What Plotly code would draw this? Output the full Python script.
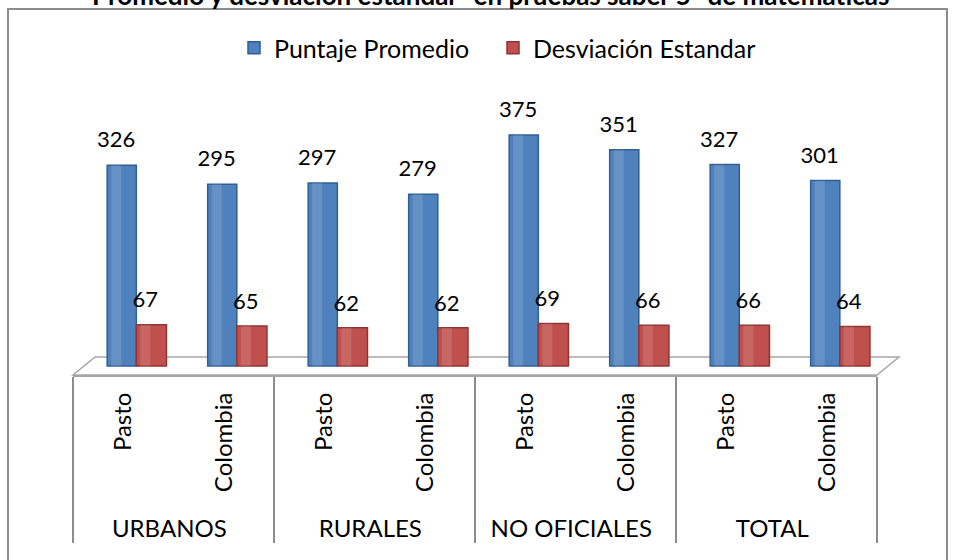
import plotly.graph_objects as go

# ---- data ----
groups = ["URBANOS", "URBANOS", "RURALES", "RURALES",
          "NO OFICIALES", "NO OFICIALES", "TOTAL", "TOTAL"]
places = ["Pasto", "Colombia", "Pasto", "Colombia",
          "Pasto", "Colombia", "Pasto", "Colombia"]
promedio = [326, 295, 297, 279, 375, 351, 327, 301]
desviacion = [67, 65, 62, 62, 69, 66, 66, 64]
series_names = ["Puntaje Promedio", "Desviación Estandar"]
title_text = "Promedio y desviación estandar \"en pruebas saber 5\" de matemáticas"

FONT = "Lato, 'Open Sans', sans-serif"
BLUE = "#4F81BD"
BLUE_D = "#2F5F95"
RED = "#C0504D"
RED_D = "#8E3533"

W, H = 954, 560
L, R, T, B = 73, 77, 110, 185
PW = W - L - R
PH = H - T - B


def px_x(p):
    return (p - L) / PW


def px_y(p):
    return 1 - (p - T) / PH


# a leading no-break space only pads the rotated labels' box (pushes group row down)
place_labels = ["\u00a0" + p for p in places]
x = [groups, place_labels]

fig = go.Figure()

# main bars
fig.add_trace(go.Bar(
    x=x, y=promedio, name=series_names[0], legend="legend",
    marker=dict(color=BLUE, line=dict(color=BLUE_D, width=1.5)),
    offset=-0.16, width=0.29, hoverinfo="y",
))
fig.add_trace(go.Bar(
    x=x, y=desviacion, name=series_names[1], legend="legend2",
    marker=dict(color=RED, line=dict(color=RED_D, width=1.5)),
    offset=0.13, width=0.30, hoverinfo="y",
))

# highlight strips (cylinder look)
fig.add_trace(go.Bar(
    x=x, y=promedio, showlegend=False, hoverinfo="skip",
    marker=dict(color="rgba(255,255,255,0.13)", line=dict(width=0)),
    offset=-0.12, width=0.10,
))
fig.add_trace(go.Bar(
    x=x, y=desviacion, showlegend=False, hoverinfo="skip",
    marker=dict(color="rgba(255,255,255,0.13)", line=dict(width=0)),
    offset=0.17, width=0.10,
))

# value labels (transparent carrier bars)
fig.add_trace(go.Bar(
    x=x, y=promedio, base=16, showlegend=False, hoverinfo="skip",
    marker=dict(color="rgba(0,0,0,0)", line=dict(width=0)),
    offset=-0.22, width=0.30,
    text=[str(v) for v in promedio], textposition="outside", constraintext="none",
    textfont=dict(family=FONT, size=22, color="#000"), cliponaxis=False,
))
fig.add_trace(go.Bar(
    x=x, y=desviacion, base=15, showlegend=False, hoverinfo="skip",
    marker=dict(color="rgba(0,0,0,0)", line=dict(width=0)),
    offset=0.07, width=0.30,
    text=[str(v) for v in desviacion], textposition="outside", constraintext="none",
    textfont=dict(family=FONT, size=22, color="#000"), cliponaxis=False,
))

GRAY = "#8c8c8c"

shapes = [
    # outer chart border
    dict(type="rect", xref="paper", yref="paper",
         x0=px_x(8), x1=px_x(947), y0=px_y(575), y1=px_y(9),
         line=dict(color=GRAY, width=2), fillcolor="rgba(0,0,0,0)", layer="below"),
    # 3D floor
    dict(type="path", xref="paper", yref="paper", layer="below",
         path=f"M {px_x(73)} {px_y(375)} L {px_x(95)} {px_y(357)} L {px_x(899)} {px_y(357)} "
              f"L {px_x(877)} {px_y(375)} Z",
         line=dict(color="#a6a6a6", width=1.5), fillcolor="#ffffff"),
]

legend_common = dict(orientation="h", xanchor="left", y=px_y(48), yanchor="middle",
                     font=dict(family=FONT, size=25, color="#000"),
                     itemwidth=30, bgcolor="rgba(0,0,0,0)")

fig.update_layout(
    width=W, height=H,
    margin=dict(l=L, r=R, t=T, b=B, autoexpand=False),
    paper_bgcolor="white", plot_bgcolor="rgba(0,0,0,0)",
    barmode="overlay",
    font=dict(family=FONT, size=22, color="#000"),
    showlegend=True,
    legend=dict(x=px_x(234), **legend_common),
    legend2=dict(x=px_x(493), **legend_common),
    shapes=shapes,
    annotations=[dict(text=f"<b>{title_text}</b>", xref="paper", yref="paper",
                      x=px_x(490), y=px_y(13), xanchor="center", yanchor="bottom",
                      showarrow=False, font=dict(family=FONT, size=26, color="#000"))],
    xaxis=dict(type="multicategory", range=[-0.5, 7.5], tickangle=-90,
               showline=True, linecolor="#a6a6a6", linewidth=2,
               showdividers=True, dividercolor=GRAY, dividerwidth=2,
               ticks="", ticklabelstandoff=6, showgrid=False,
               tickfont=dict(family=FONT, size=24, color="#000"),
               fixedrange=True),
    yaxis=dict(range=[-9 / 0.616, (366 - T) / 0.616], visible=False, showgrid=False,
               zeroline=False, fixedrange=True),
)

fig.write_html("out.html", config={"displayModeBar": False},
               post_script="document.body.style.margin='0';document.body.style.overflow='hidden';")
